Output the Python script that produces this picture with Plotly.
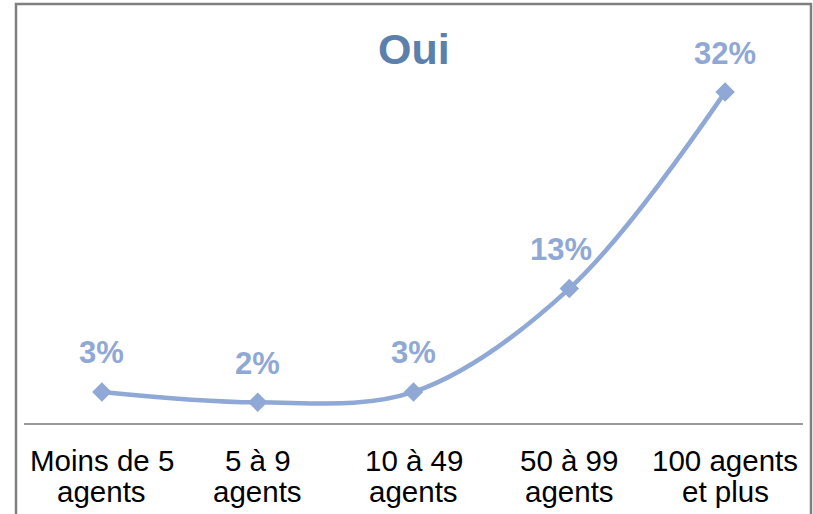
import plotly.graph_objects as go

categories = ["Moins de 5<br>agents", "5 à 9<br>agents", "10 à 49<br>agents",
              "50 à 99<br>agents", "100 agents<br>et plus"]
values = [3, 2, 3, 13, 32]
value_labels = ["3%", "2%", "3%", "13%", "32%"]
title_text = "Oui"

line_color = "#8FA8D6"
title_color = "#5B80AB"

W, H = 813, 514
L, R, T, B = 24, 10, 40, 91
plot_h = H - T - B
y_max = 37.04

def py(pix):
    # convert pixel row to paper y
    return (H - B - pix) / plot_h

def px(pix):
    return (pix - L) / (W - L - R)

fig = go.Figure()
fig.add_trace(go.Scatter(
    x=categories, y=values, mode="lines+markers",
    line=dict(color=line_color, width=4.5, shape="spline", smoothing=1),
    marker=dict(symbol="diamond", size=15, color=line_color),
    hoverinfo="skip", showlegend=False,
))

annotations = []
for c, v, lab in zip(categories, values, value_labels):
    annotations.append(dict(
        x=c, y=v, xref="x", yref="y", text=lab, showarrow=False,
        yshift=39, yanchor="middle", xanchor="center",
        xshift=-8 if lab == "13%" else 0,
        font=dict(family="Liberation Sans, Arial, sans-serif", size=31,
                  color=line_color, weight="bold"),
    ))
    lines = c.split("<br>")
    for i, ln in enumerate(lines):
        annotations.append(dict(
            x=c, y=py(460 + 31 * i), xref="x", yref="paper", text=ln,
            showarrow=False, yanchor="middle", xanchor="center",
            font=dict(family="Liberation Sans, Arial, sans-serif", size=29.5,
                      color="#000000"),
        ))

annotations.append(dict(
    x=categories[2], y=py(49), xref="x", yref="paper", text=title_text,
    showarrow=False, yanchor="middle", xanchor="center",
    font=dict(family="Liberation Sans, Arial, sans-serif", size=43,
              color=title_color, weight="bold"),
))

fig.update_layout(
    width=W, height=H,
    margin=dict(l=L, r=R, t=T, b=B, pad=0),
    paper_bgcolor="white", plot_bgcolor="white",
    xaxis=dict(type="category", range=[-0.5, 4.5], showline=True,
               linecolor="#9A9A9A", linewidth=2, showgrid=False,
               zeroline=False, ticks="", showticklabels=False,
               fixedrange=True),
    yaxis=dict(range=[0, y_max], visible=False, showgrid=False,
               zeroline=False, fixedrange=True),
    annotations=annotations,
    shapes=[dict(type="rect", xref="paper", yref="paper",
                 x0=px(16), x1=px(811), y0=py(540), y1=py(4),
                 line=dict(color="#7F7F7F", width=2.5),
                 fillcolor="rgba(0,0,0,0)", layer="above")],
)

fig.write_html("out.html", config={"displayModeBar": False},
               post_script="document.body.style.margin='0';"
                           "document.body.style.padding='0';")
